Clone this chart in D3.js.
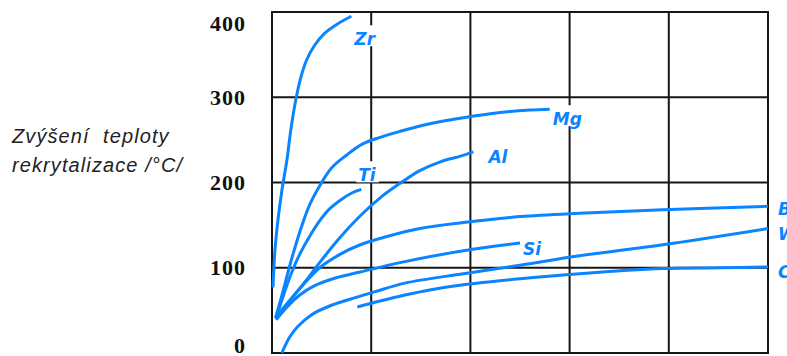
<!DOCTYPE html>
<html>
<head>
<meta charset="utf-8">
<script src="https://cdn.jsdelivr.net/npm/d3@7/dist/d3.min.js"></script>
<style>
  html, body { margin: 0; padding: 0; background: #fff; }
  svg { display: block; }
</style>
</head>
<body>
<svg id="chart" width="787" height="356"></svg>
<script>
// Increase of recrystallization temperature (°C) vs. alloy content, one curve per element.
const yTicks = [0, 100, 200, 300, 400];
const xGrid = [1, 2, 3, 4];

const zr = [[0.01,77],[0.03,121],[0.06,156],[0.10,191],[0.15,226],[0.19,262],[0.24,297],[0.29,323],[0.35,344],[0.43,361],[0.53,375],[0.66,386],[0.80,395]];
const mg = [[0.04,43],[0.11,72],[0.19,107],[0.28,142],[0.38,174],[0.48,196],[0.60,217],[0.75,232],[0.91,245],[1.09,253],[1.29,260],[1.59,269],[1.93,276],[2.30,282],[2.60,285],[2.80,286]];
const ti = [[0.04,41],[0.12,69],[0.20,95],[0.28,116],[0.38,137],[0.48,155],[0.58,169],[0.71,181],[0.81,188],[0.90,192]];
const al = [[0.05,41],[0.18,61],[0.33,83],[0.48,106],[0.69,136],[0.89,161],[1.09,182],[1.29,199],[1.49,214],[1.69,224],[1.90,231],[2.03,236]];
const be = [[0.03,41],[0.18,62],[0.33,82],[0.48,100],[0.69,116],[0.89,127],[1.14,136],[1.49,146],[1.93,153],[2.50,160],[3.10,164],[3.94,168],[5.0,172]];
const si = [[0.04,39],[0.16,55],[0.28,68],[0.43,79],[0.64,88],[0.89,95],[1.29,106],[1.93,120],[2.50,129]];
const w  = [[0.10,0],[0.13,8],[0.18,19],[0.26,31],[0.40,45],[0.60,56],[0.84,65],[1.04,72],[1.34,82],[1.93,93],[2.50,103],[3.10,114],[3.94,127],[5.0,146]];
const c  = [[0.86,54],[1.09,61],[1.34,68],[1.59,74],[1.93,80],[2.50,87],[3.10,93],[3.94,99],[4.52,100],[5.0,101]];

const seriesNames = ["Zr", "Mg", "Ti", "Al", "B", "Si", "W", "C"];
const seriesData  = [zr, mg, ti, al, be, si, w, c];

const svg = d3.select("#chart");
const x = d3.scaleLinear().domain([0, 5]).range([272, 768]);
const y = d3.scaleLinear().domain([0, 400]).range([353, 12]);

const gridColor = "#161616";
const blue = "#0a84ff";

// grid
const grid = svg.append("g").attr("stroke", gridColor).attr("stroke-width", 2);
grid.selectAll("line.v").data(xGrid).join("line")
  .attr("x1", d => x(d)).attr("x2", d => x(d))
  .attr("y1", y(400)).attr("y2", y(0));
grid.selectAll("line.h").data(yTicks.slice(1, -1)).join("line")
  .attr("x1", x(0)).attr("x2", x(5))
  .attr("y1", d => y(d)).attr("y2", d => y(d));
grid.append("rect")
  .attr("x", x(0)).attr("y", y(400))
  .attr("width", x(5) - x(0)).attr("height", y(0) - y(400))
  .attr("fill", "none");

// y axis labels, kept inside the drawing area at the ends
const yAxis = d3.axisLeft(y).tickValues(yTicks).tickSize(0).tickPadding(26).tickFormat(d3.format("d"));
const ax = svg.append("g").attr("transform", `translate(${x(0)},0)`).call(yAxis);
ax.select(".domain").remove();
ax.selectAll(".tick").attr("transform", d => `translate(0,${Math.max(24, Math.min(346, y(d)))})`);
ax.selectAll("text")
  .attr("font-family", "'Liberation Serif', 'DejaVu Serif', serif")
  .attr("font-weight", "bold")
  .attr("font-size", 22)
  .attr("letter-spacing", 1)
  .attr("dy", "0.34em")
  .attr("fill", "#111");

// axis title
const title = svg.append("text")
  .attr("font-family", "'Liberation Sans', Arial, sans-serif")
  .attr("font-style", "italic")
  .attr("font-size", 20)
  .attr("letter-spacing", 1.1)
  .style("white-space", "pre")
  .attr("fill", "#222");
title.append("tspan").attr("x", 12).attr("y", 143).text("Zvýšení  teploty");
title.append("tspan").attr("x", 12).attr("y", 172).text("rekrytalizace /°C/");

// label placement relative to each series' last point
const labelOffset = {
  "Zr": [3, 29], "Mg": [3, 16], "Ti": [-3, -8], "Al": [15, 11],
  "B": [10, 9], "Si": [3, 12], "W": [10, 11], "C": [10, 11]
};
const masked = ["Zr", "Ti", "Mg"];

const labels = seriesNames.map((n, i) => {
  const last = seriesData[i][seriesData[i].length - 1];
  return { name: n, lx: x(last[0]) + labelOffset[n][0], ly: y(last[1]) + labelOffset[n][1] };
});

const bgLayer = svg.append("g");
const curveLayer = svg.append("g");
const labelLayer = svg.append("g");

const line = d3.line().x(d => x(d[0])).y(d => y(d[1])).curve(d3.curveCatmullRom.alpha(0.5));
curveLayer.selectAll("path").data(seriesData).join("path")
  .attr("d", line)
  .attr("fill", "none")
  .attr("stroke", blue)
  .attr("stroke-width", 3)
  .attr("stroke-linecap", "butt")
  .attr("stroke-linejoin", "round");

labelLayer.selectAll("text").data(labels).join("text")
  .attr("x", d => d.lx).attr("y", d => d.ly)
  .attr("font-family", "'DejaVu Sans', Verdana, sans-serif")
  .attr("font-weight", "bold")
  .attr("font-style", "italic")
  .attr("font-size", 17)
  .attr("fill", blue)
  .text(d => d.name)
  .each(function(d) {
    if (!masked.includes(d.name)) return;
    const b = this.getBBox();
    bgLayer.append("rect")
      .attr("x", b.x - 2).attr("y", d.ly - 20)
      .attr("width", b.width + 4).attr("height", 21)
      .attr("fill", "#fff");
  });
</script>
</body>
</html>
